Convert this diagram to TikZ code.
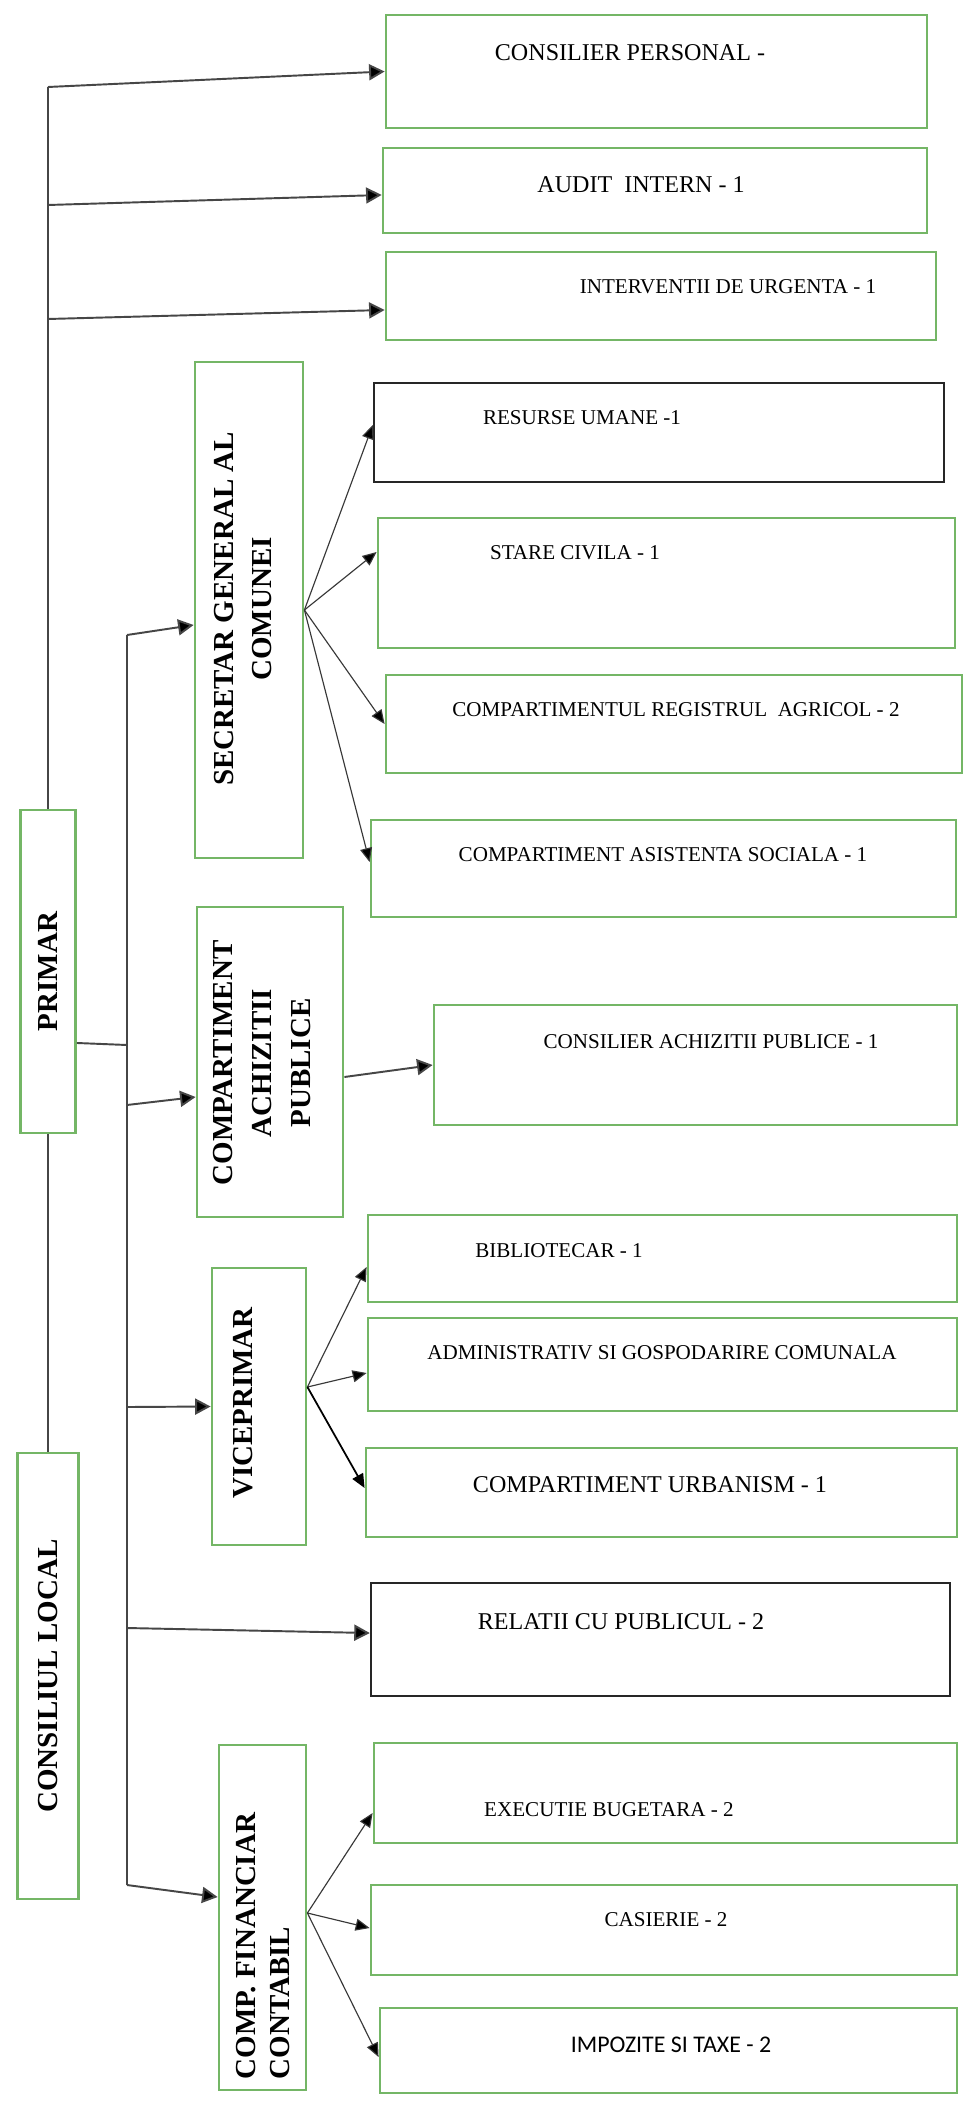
\documentclass[tikz,border=0pt]{standalone}
\usepackage{fontspec}
\setmainfont{Liberation Serif}
\newfontfamily\calibrifont{Carlito}
\usetikzlibrary{arrows.meta}

\definecolor{boxgreen}{RGB}{116,182,102}
\definecolor{wiregray}{RGB}{70,70,70}

\tikzset{
  unit/.style={draw=boxgreen, line width=1.6pt, inner sep=0pt},
  blackunit/.style={unit, draw=black!85, line width=1.4pt},
  sz/.style 2 args={minimum width=#1*0.02cm, minimum height=#2*0.02cm},
  lbl/.style={inner sep=0pt, font=\fontsize{12}{14}\selectfont},
  lblbig/.style={inner sep=0pt, font=\fontsize{13.7}{16}\selectfont},
  vlbl/.style={rotate=90, align=center, inner sep=0pt, font=\bfseries\fontsize{16.5}{22}\selectfont},
  wire/.style={draw=wiregray, line width=1.1pt},
  fan/.style={draw=wiregray!80!black, line width=0.65pt},
  arr/.style={-{Triangle[length=0.31cm, width=0.32cm]}},
  farr/.style={-{Triangle[length=0.28cm, width=0.24cm]}},
}

\begin{document}
\begin{tikzpicture}[x=0.02cm, y=-0.02cm]
    \fill[white] (0,0) rectangle (969,2111);
    \useasboundingbox (0,0) rectangle (969,2111);

    % left column
    \node[unit, sz={55}{323}] (9) at (48,971.5) {};
    \node[vlbl] (9t) at (9) {PRIMAR};
    \node[unit, sz={61}{446}] (16) at (48,1676) {};
    \node[vlbl] (16t) at (16) {CONSILIUL LOCAL};

    % boxes fed by the primar
    \node[unit, sz={541}{113}] (1) at (656.5,71.5) {};
    \node[lblbig] (1t) at (630,53) {CONSILIER PERSONAL -};
    \node[unit, sz={544}{85}] (2) at (655,190.5) {};
    \node[lblbig] (2t) at (641,185) {AUDIT~~INTERN - 1};
    \node[unit, sz={550}{88}] (3) at (661,296) {};
    \node[lbl] (3t) at (728,287) {INTERVENTII DE URGENTA - 1};

    % secretar
    \node[unit, sz={108}{496}] (4) at (249,610) {};
    \node[vlbl] (4t) at (243,609) {SECRETAR GENERAL AL\\COMUNEI};
    \node[blackunit, sz={570}{99}] (5) at (659,432.5) {};
    \node[lbl] (5t) at (582,418) {RESURSE UMANE -1};
    \node[unit, sz={577}{130}] (6) at (666.5,583) {};
    \node[lbl] (6t) at (575,553) {STARE CIVILA - 1};
    \node[unit, sz={576}{98}] (7) at (674,724) {};
    \node[lbl] (7t) at (676,710) {COMPARTIMENTUL REGISTRUL~~AGRICOL - 2};
    \node[unit, sz={585}{97}] (8) at (663.5,868.5) {};
    \node[lbl] (8t) at (663,855) {COMPARTIMENT ASISTENTA SOCIALA - 1};

    % achizitii
    \node[unit, sz={146}{310}] (10) at (270,1062) {};
    \node[vlbl] (10t) at (262,1063) {COMPARTIMENT\\ACHIZITII\\PUBLICE};
    \node[unit, sz={523}{120}] (11) at (695.5,1065) {};
    \node[lbl] (11t) at (711,1042) {CONSILIER ACHIZITII PUBLICE - 1};

    % viceprimar
    \node[unit, sz={94}{277}] (15) at (259,1406.5) {};
    \node[vlbl] (15t) at (243,1403) {VICEPRIMAR};
    \node[unit, sz={589}{87}] (12) at (662.5,1258.5) {};
    \node[lbl] (12t) at (559,1251) {BIBLIOTECAR - 1};
    \node[unit, sz={589}{93}] (13) at (662.5,1364.5) {};
    \node[lbl] (13t) at (662,1353) {ADMINISTRATIV SI GOSPODARIRE COMUNALA};
    \node[unit, sz={591}{89}] (14) at (661.5,1492.5) {};
    \node[lblbig] (14t) at (650,1485) {COMPARTIMENT URBANISM - 1};

    \node[blackunit, sz={579}{113}] (17) at (660.5,1639.5) {};
    \node[lblbig] (17t) at (621,1622) {RELATII CU PUBLICUL - 2};

    % financiar
    \node[unit, sz={87}{345}] (18) at (262.5,1917.5) {};
    \node[vlbl, align=left, font=\bfseries\fontsize{16.5}{19.5}\selectfont] (18t) at (263,1946) {COMP. FINANCIAR\\CONTABIL};
    \node[unit, sz={583}{100}] (19) at (665.5,1793) {};
    \node[lbl] (19t) at (609,1810) {EXECUTIE BUGETARA - 2};
    \node[unit, sz={586}{90}] (20) at (664,1930) {};
    \node[lbl] (20t) at (666,1920) {CASIERIE - 2};
    \node[unit, sz={577}{85}] (21) at (668.5,2050.5) {};
    \node[lblbig, font=\calibrifont\fontsize{13.6}{16}\selectfont] (21t) at (671,2045) {IMPOZITE SI TAXE - 2};

    % trunk points
    \coordinate (t1) at (48,87);
    \coordinate (t2) at (48,205);
    \coordinate (t3) at (48,319);
    \coordinate (s1) at (127,635);
    \coordinate (s2) at (127,1045);
    \coordinate (s3) at (127,1105);
    \coordinate (s4) at (127,1407);
    \coordinate (s5) at (127,1628);
    \coordinate (s6) at (127,1885);

    \draw[wire]
    (t1) edge (9.north)
    (9.south) edge (16.north)
    ([yshift=-1.43cm]9.east) edge (s2)
    (s1) edge (s6)
    (t1) edge[arr] (1.west)
    (t2) edge[arr] ([yshift=-0.09cm]2.west)
    (t3) edge[arr] ([yshift=-0.28cm]3.west)
    (s1) edge[arr] ([yshift=-0.3cm]4.west)
    (s3) edge[arr] ([yshift=-0.7cm]10.west)
    (s4) edge[arr] (15.west)
    (s5) edge[arr] ([yshift=0.13cm]17.west)
    (s6) edge[arr] ([yshift=0.41cm]18.west)
    ([yshift=-0.3cm]10.east) edge[arr] (11.west);

    \draw[fan]
    (4.east) edge[farr] ([yshift=0.15cm]5.west)
    (4.east) edge[farr] ([yshift=0.62cm]6.west)
    (4.east) edge[farr] (7.west)
    (4.east) edge[farr] ([yshift=0.13cm]8.west)
    ([yshift=0.39cm]15.east) edge[farr] ([yshift=-0.17cm]12.west)
    ([yshift=0.39cm]15.east) edge[farr] ([yshift=-0.17cm]13.west)
    ([yshift=0.39cm]15.east) edge[farr, draw=black, line width=1pt] ([yshift=0.09cm]14.west)
    ([yshift=0.09cm]18.east) edge[farr] ([yshift=-0.4cm]19.west)
    ([yshift=0.09cm]18.east) edge[farr] ([yshift=0.04cm]20.west)
    ([yshift=0.09cm]18.east) edge[farr] ([yshift=-0.13cm]21.west);

\end{tikzpicture}
\end{document}
